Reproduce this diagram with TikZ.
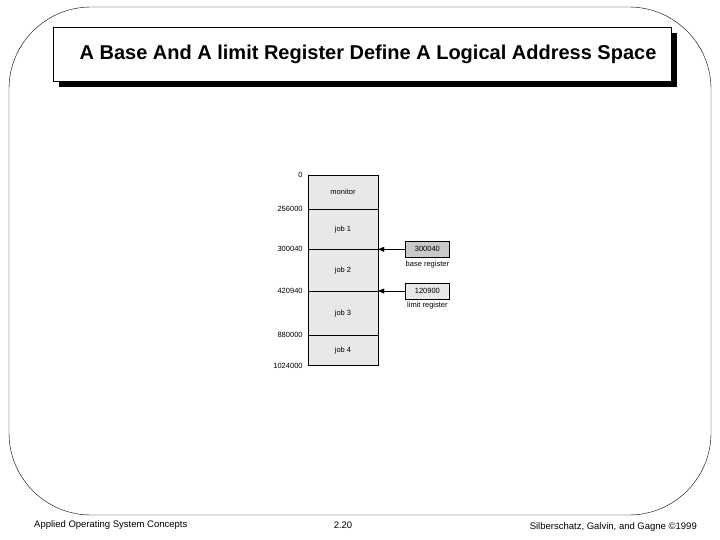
\documentclass[tikz,border=0pt]{standalone}
\usepackage{fontspec}
\setmainfont{Liberation Sans}
\usetikzlibrary{positioning,arrows.meta,shadows}
\definecolor{memgray}{gray}{0.91}
\definecolor{reggray}{gray}{0.79}
\tikzset{
  seg/.style={draw,fill=memgray,minimum width=70pt,inner sep=0pt,font=\fontsize{7.5}{8}\selectfont},
  addr/.style={anchor=east,inner sep=0pt,font=\fontsize{7.5}{8}\selectfont},
  reg/.style={draw,minimum width=44pt,minimum height=16pt,inner sep=0pt,font=\fontsize{7.5}{8}\selectfont},
  reglabel/.style={below=3pt,inner sep=0pt,font=\fontsize{7.5}{8}\selectfont},
  foot/.style={inner sep=0pt,font=\fontsize{9.5}{10}\selectfont}
}
\begin{document}
\begin{tikzpicture}[x=1pt,y=-1pt]
  \useasboundingbox (0,0) rectangle (720,540);
  % slide frame
  \draw[rounded corners=82pt] (9,7) rectangle (711,515);
  % title
  \node[draw,fill=white,minimum width=618pt,minimum height=54pt,
        general shadow={fill=black,shadow xshift=6pt,shadow yshift=-6pt},
        font=\fontsize{20}{22}\selectfont\bfseries] (title) at (362,54)
        {\hspace*{12pt}A Base And A limit Register Define A Logical Address Space};
  % memory
  \node[seg,minimum height=34pt] (mon) at (343,192) {monitor};
  \node[seg,minimum height=39.7pt,below=0pt of mon] (job1) {job 1};
  \node[seg,minimum height=41.3pt,below=0pt of job1] (job2) {job 2};
  \node[seg,minimum height=44pt,below=0pt of job2] (job3) {job 3};
  \node[seg,minimum height=30pt,below=0pt of job3] (job4) {job 4};
  \draw[line width=1pt] (mon.south west) -- (mon.south east);
  \draw[line width=1pt] (job3.south west) -- (job3.south east);
  % addresses
  \node[addr] (a0) at ([xshift=-5pt]mon.north west) {0};
  \node[addr] (a1) at ([xshift=-5pt]mon.south west) {256000};
  \node[addr] (a2) at ([xshift=-5pt]job1.south west) {300040};
  \node[addr] (a3) at ([xshift=-5pt]job2.south west) {420940};
  \node[addr] (a4) at ([xshift=-5pt]job3.south west) {880000};
  \node[addr] (a5) at ([xshift=-5pt]job4.south west) {1024000};
  % registers
  \node[reg,fill=reggray,right=27pt of job1.south east] (base) {300040};
  \node[reglabel] (baselbl) at (base.south) {base register};
  \node[reg,fill=memgray,right=27pt of job2.south east] (limit) {120900};
  \node[reglabel] (limitlbl) at (limit.south) {limit register};
  \draw[-{Triangle[length=6pt,width=5pt]}] (base.west) -- (job1.south east);
  \draw[-{Triangle[length=6pt,width=5pt]}] (limit.west) -- (job2.south east);
  % footer
  \node[foot,anchor=west] (left) at (34,525) {Applied Operating System Concepts};
  \node[foot] (page) at (343,525) {2.20};
  \node[foot,anchor=east] (right) at (697,527) {Silberschatz, Galvin, and Gagne \textcopyright 1999};
\end{tikzpicture}
\end{document}
